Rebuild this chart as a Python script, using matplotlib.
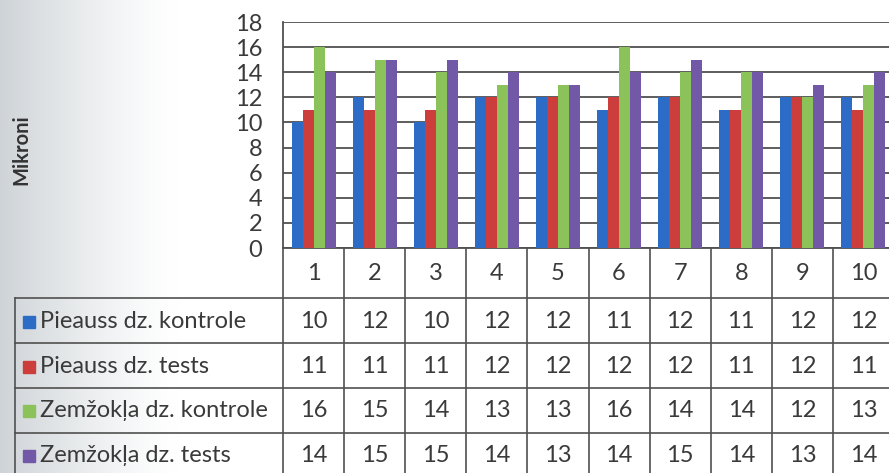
import numpy as np
import matplotlib
matplotlib.use("Agg")
import matplotlib.pyplot as plt
from matplotlib.transforms import blended_transform_factory

plt.rcParams["font.family"] = ["Lato", "DejaVu Sans"]

# data
groups = ["1", "2", "3", "4", "5", "6", "7", "8", "9", "10"]
series_names = [
    "Pieauss dz. kontrole",
    "Pieauss dz. tests",
    "Zemžokļa dz. kontrole",
    "Zemžokļa dz. tests",
]
pieauss_kontrole = [10, 12, 10, 12, 12, 11, 12, 11, 12, 12]
pieauss_tests = [11, 11, 11, 12, 12, 12, 12, 11, 12, 11]
zemzokla_kontrole = [16, 15, 14, 13, 13, 16, 14, 14, 12, 13]
zemzokla_tests = [14, 15, 15, 14, 13, 14, 15, 14, 13, 14]
y_ticks = [0, 2, 4, 6, 8, 10, 12, 14, 16, 18]
y_label = "Mikroni"

series = [pieauss_kontrole, pieauss_tests, zemzokla_kontrole, zemzokla_tests]
colors = ["#2c6cc6", "#cc3e3b", "#8cc25a", "#7259a8"]
text_color = "#3a3a3a"
line_color = "#505050"

W, H = 889, 473
fig = plt.figure(figsize=(W / 100, H / 100), dpi=100)

# grey shading along the left edge of the page
bg = fig.add_axes([0, 0, 1, 1], zorder=-2)
shade = np.clip(1 - np.linspace(0, 1, W) / 0.2, 0, 1) ** 1.3
img = np.ones((2, W, 3))
for c, v in enumerate((0.81, 0.83, 0.845)):
    img[:, :, c] = 1 - shade * (1 - v)
bg.imshow(img, aspect="auto", extent=[0, 1, 0, 1])
bg.axis("off")

# bar chart
x0_px, x1_px = 283, 894
y0_px, y1_px = 248, 22
ax = fig.add_axes([x0_px / W, 1 - y0_px / H, (x1_px - x0_px) / W, (y0_px - y1_px) / H])
x = np.arange(1, len(groups) + 1)
bw = 0.18
for i, (vals, col) in enumerate(zip(series, colors)):
    ax.bar(x + (i - 1.5) * bw, vals, width=bw, color=col, zorder=3)

ax.set_xlim(0.5, len(groups) + 0.5)
ax.set_ylim(0, 18)
ax.set_yticks(y_ticks)
ax.set_xticks([])
ax.grid(axis="y", color=line_color, linewidth=1.3, zorder=0)
ax.tick_params(axis="y", length=0, pad=15, labelsize=17, labelcolor=text_color)
for s in ("top", "right"):
    ax.spines[s].set_visible(False)
for s in ("left", "bottom"):
    ax.spines[s].set_color(line_color)
    ax.spines[s].set_linewidth(1.3)

fig.text(21 / W, 1 - 150 / H, y_label, rotation=90, fontsize=14.5, fontweight="bold",
         color="#333333", ha="center", va="center")

# data table under the chart: x follows the bar axes, y in pixels
px = fig.add_axes([0, 0, 1, 1], zorder=1)
px.set_xlim(0, W)
px.set_ylim(H, 0)
px.axis("off")
tr = blended_transform_factory(ax.transData, px.transData)

row_edges = [298, 343, 388, 433]
row_centers = [321, 366, 410, 455]
header_center = 273

# vertical column separators
for b in np.arange(0.5, len(groups) + 1, 1.0):
    px.plot([b, b], [y0_px, H], color=line_color, lw=1.2, transform=tr, clip_on=False)
px.plot([15, 15], [row_edges[0], H], color=line_color, lw=1.2)

# horizontal row separators
for y in row_edges:
    px.plot([15, W], [y, y], color=line_color, lw=1.2)

for xi, g in zip(x, groups):
    px.text(xi, header_center, g, transform=tr, ha="center", va="center",
            fontsize=17, color=text_color)

for name, vals, col, yc in zip(series_names, series, colors, row_centers):
    px.add_patch(plt.Rectangle((23, yc - 5), 12, 12, color=col))
    px.text(40, yc, name, ha="left", va="center", fontsize=17, color=text_color)
    for xi, v in zip(x, vals):
        px.text(xi, yc, str(v), transform=tr, ha="center", va="center",
                fontsize=17, color=text_color)

fig.savefig("out.png", dpi=100)
